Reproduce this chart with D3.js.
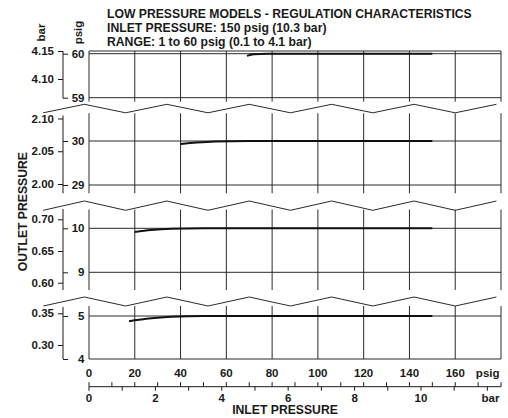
<!DOCTYPE html>
<html>
<head>
<meta charset="utf-8">
<script src="https://cdn.jsdelivr.net/npm/d3@7"></script>
<style>
  html, body { margin: 0; padding: 0; background: #fff; }
  svg text { font-family: "Liberation Sans", Arial, Helvetica, sans-serif; font-weight: bold; font-size: 11.5px; fill: #1a1a1a; }
  svg text.head { font-size: 12.2px; }
</style>
</head>
<body>
<script>
// ---- data -------------------------------------------------------------
const titleLines = [
  "LOW PRESSURE MODELS - REGULATION CHARACTERISTICS",
  "INLET PRESSURE: 150 psig (10.3 bar)",
  "RANGE: 1 to 60 psig (0.1 to 4.1 bar)"
];

// inlet pressure (psig) vs outlet pressure (psig) for each set point
const inlet60  = [69, 72, 78, 90, 150];
const outlet60 = [59.95, 59.985, 59.997, 60.0, 60.0];
const inlet30  = [40, 47, 55, 70, 150];
const outlet30 = [29.93, 29.965, 29.99, 30.0, 30.0];
const inlet10  = [20, 27, 36, 50, 150];
const outlet10 = [9.915, 9.96, 9.99, 10.0, 10.0];
const inlet5   = [17.5, 25, 36, 50, 150];
const outlet5  = [4.88, 4.935, 4.98, 5.0, 5.0];

// outlet axis ticks, one set per panel (top to bottom)
const outletPsigTicks = [[59, 60], [29, 30], [9, 10], [4, 5]];
const outletBarTicks  = [[4.10, 4.15], [2.00, 2.05, 2.10], [0.60, 0.65, 0.70], [0.30, 0.35]];

// inlet axis ticks
const inletPsigLabels = [0, 20, 40, 60, 80, 100, 120, 140, 160];
const inletPsigGrid   = [0, 20, 40, 60, 80, 100, 120, 140, 160, 180];
const inletPsigMinor  = [10, 20, 30, 40, 50, 60, 70, 80, 90, 100, 110, 120, 130, 140, 150, 160, 170, 180];
const inletBarTicks   = [0, 1, 2, 3, 4, 5, 6, 7, 8, 9, 10, 11, 12];
const inletBarLabels  = [0, 2, 4, 6, 8, 10];

const PSI_PER_BAR = 14.5038;

// ---- layout -----------------------------------------------------------
const W = 508, H = 418;
const panelLayout = [
  { top: 51,    bottom: 101.7, psigPx: [97.7, 53.7], barPx: [79, 51],        axisTop: 51,    axisBottom: 98.2 },
  { top: 113.3, bottom: 193.3, psigPx: [185, 141],   barPx: [184, 118.5],    axisTop: 115.5, axisBottom: 193.3 },
  { top: 209.5, bottom: 290,   psigPx: [272.3, 228.3], barPx: [282.7, 219.3], axisTop: 209,   axisBottom: 290 },
  { top: 306,   bottom: 359,   psigPx: [359, 316],   barPx: [345, 313.3],    axisTop: 307,   axisBottom: 359 }
];
const breakLayout = [ { peak: 104.3, valley: 112.8 }, { peak: 201, valley: 210.3 }, { peak: 297, valley: 306 } ];
const AXIS_X = 63;
const ink = "#1a1a1a";

const svg = d3.select("body").append("svg").attr("width", W).attr("height", H);

const x = d3.scaleLinear().domain([0, 180]).range([89, 501]);
const xBar = d3.scaleLinear().domain([0, 180 / PSI_PER_BAR]).range([89, 501]);

// title
svg.append("g").selectAll("text").data(titleLines).join("text").attr("class", "head")
  .attr("x", 107).attr("y", (d, i) => 18.3 + i * 13.7).text(d => d);

// left header labels
svg.append("text").attr("transform", "translate(45,32.5) rotate(-90)").attr("text-anchor", "middle").text("bar");
svg.append("text").attr("transform", "translate(81.5,32.5) rotate(-90)").attr("text-anchor", "middle").text("psig");
svg.append("text").attr("class", "head").attr("transform", "translate(27,211.7) rotate(-90)").attr("text-anchor", "middle").text("OUTLET PRESSURE");

const seriesList = [
  { inlet: inlet60, outlet: outlet60 },
  { inlet: inlet30, outlet: outlet30 },
  { inlet: inlet10, outlet: outlet10 },
  { inlet: inlet5,  outlet: outlet5 }
];

panelLayout.forEach((p, i) => {
  const y = d3.scaleLinear().domain(outletPsigTicks[i]).range(p.psigPx);
  const bt = outletBarTicks[i];
  const yBar = d3.scaleLinear().domain([bt[0], bt[bt.length - 1]]).range(p.barPx);
  const g = svg.append("g");

  // vertical grid
  g.append("g").selectAll("line").data(inletPsigGrid).join("line")
    .attr("x1", d => x(d)).attr("x2", d => x(d))
    .attr("y1", p.top).attr("y2", p.bottom)
    .attr("stroke", "#2a2a2a").attr("stroke-width", 1);
  // horizontal grid at psig ticks
  g.append("g").selectAll("line").data(outletPsigTicks[i]).join("line")
    .attr("x1", x(0)).attr("x2", x(180))
    .attr("y1", d => y(d)).attr("y2", d => y(d))
    .attr("stroke", "#2a2a2a").attr("stroke-width", 1);
  if (i === 0) {
    g.append("line").attr("x1", x(0)).attr("x2", x(180))
      .attr("y1", p.top).attr("y2", p.top).attr("stroke", "#2a2a2a");
  }

  // bar axis (left ticks)
  const barAxis = d3.axisLeft(yBar).tickValues(bt).tickFormat(d3.format(".2f")).tickSize(5).tickPadding(4);
  const ga = g.append("g").attr("transform", `translate(${AXIS_X},0)`).call(barAxis);
  ga.select(".domain").remove();
  ga.selectAll("line").attr("stroke", ink);
  ga.selectAll("text").style("font-size", "11.5px").style("font-family", null).attr("fill", ink);
  g.append("line").attr("x1", AXIS_X).attr("x2", AXIS_X)
    .attr("y1", p.axisTop).attr("y2", p.axisBottom).attr("stroke", ink);

  // psig axis (right ticks, labels right-aligned before the plot)
  const psigAxis = d3.axisRight(y).tickValues(outletPsigTicks[i]).tickFormat(d3.format("d")).tickSize(5).tickPadding(0);
  const gp = g.append("g").attr("transform", `translate(${AXIS_X},0)`).call(psigAxis);
  gp.select(".domain").remove();
  gp.selectAll("line").attr("stroke", ink);
  gp.selectAll("text").attr("x", 21.5).attr("text-anchor", "end")
    .style("font-size", "11.5px").style("font-family", null).attr("fill", ink);

  // regulation curve
  const s = seriesList[i];
  const pts = s.inlet.map((v, k) => [v, s.outlet[k]]);
  g.append("path").datum(pts)
    .attr("fill", "none").attr("stroke", "#111").attr("stroke-width", 2)
    .attr("d", d3.line().x(d => x(d[0])).y(d => y(d[1])).curve(d3.curveMonotoneX));
});

// axis break zigzags between panels
const zigPsig = d3.range(12).map(k => -20 + 18 * k);
breakLayout.forEach(b => {
  svg.append("path")
    .datum(zigPsig)
    .attr("fill", "none").attr("stroke", "#2a2a2a").attr("stroke-width", 1)
    .attr("d", d3.line().x(d => x(d)).y((d, k) => k % 2 === 0 ? b.valley : b.peak));
});

// inlet psig labels
const gx = svg.append("g");
gx.selectAll("text").data(inletPsigLabels).join("text")
  .attr("x", d => x(d)).attr("y", 376.5).attr("text-anchor", "middle").text(d => d);
gx.append("text").attr("x", 499.5).attr("y", 376.5).attr("text-anchor", "end").text("psig");

// inlet bar scale line with ticks
const AXB_Y = 386.7;
const gb = svg.append("g");
gb.append("line").attr("x1", x(0)).attr("x2", x(180)).attr("y1", AXB_Y).attr("y2", AXB_Y).attr("stroke", ink);
gb.selectAll("line.up").data([0].concat(inletPsigMinor)).join("line").attr("class", "up")
  .attr("x1", d => x(d)).attr("x2", d => x(d)).attr("y1", AXB_Y - 4.5).attr("y2", AXB_Y).attr("stroke", ink);
gb.selectAll("line.dn").data(inletBarTicks).join("line").attr("class", "dn")
  .attr("x1", d => xBar(d)).attr("x2", d => xBar(d)).attr("y1", AXB_Y).attr("y2", AXB_Y + 4).attr("stroke", ink);
gb.selectAll("text.bl").data(inletBarLabels).join("text").attr("class", "bl")
  .attr("x", d => xBar(d)).attr("y", 401.5).attr("text-anchor", "middle").text(d => d);
gb.append("text").attr("x", 499.5).attr("y", 401.5).attr("text-anchor", "end").text("bar");

svg.append("text").attr("class", "head").attr("x", 285).attr("y", 414).attr("text-anchor", "middle").text("INLET PRESSURE");
</script>
</body>
</html>
